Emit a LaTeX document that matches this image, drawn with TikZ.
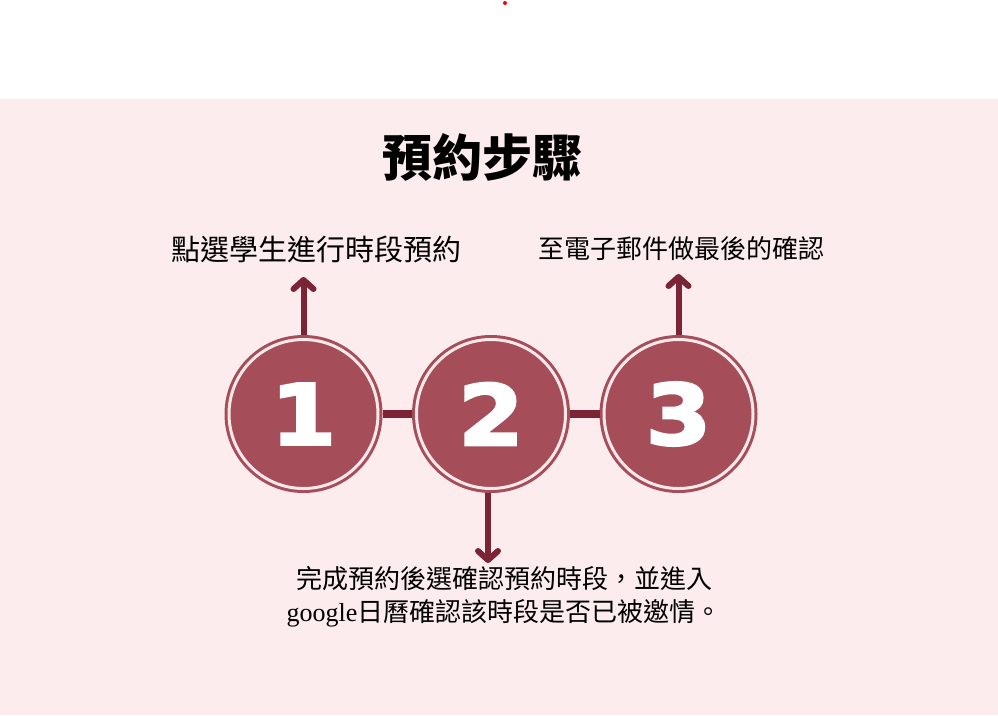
\documentclass[tikz,border=0pt]{standalone}
\usepackage{fontspec}
\setmainfont{Noto Sans CJK TC}
\newfontfamily\googlefont{Liberation Serif}
\newfontfamily\numfont{DejaVu Sans}[BoldFeatures={FakeBold=3}]
\usepackage{xcolor}
\usetikzlibrary{arrows.meta, positioning}

\definecolor{pinkbg}{HTML}{FDECED}
\definecolor{stepred}{HTML}{A64D5A}
\definecolor{stepgap}{HTML}{FBE8EA}
\definecolor{linkred}{HTML}{7B2435}

\begin{document}
\begin{tikzpicture}[
    x=1pt, y=-1pt,
    every node/.style={
        align=center,
        inner sep=0pt
    },
    stepcircle/.style={
        circle,
        fill=stepred,
        draw=stepred,
        line width=3pt,
        double=stepgap,
        double distance=3pt,
        minimum size=149pt,
        outer sep=4.5pt,
        text=white,
        font=\numfont\bfseries\fontsize{84}{84}\selectfont
    },
    title/.style={
        font=\bfseries\fontsize{50}{56}\selectfont
    },
    label/.style={
        font=\fontsize{#1}{33}\selectfont
    },
    link/.style={
        linkred,
        line width=8pt
    },
    line/.style={
        -{Straight Barb[length=9pt,width=20pt,round]},
        linkred,
        line width=6pt
    }
]

\useasboundingbox (0,0) rectangle (998,715);
\fill[pinkbg] (0,99) rectangle (998,715);
\fill[red] (505,3) circle (2);

\node[title] (titel) at (482,157) {預約步驟};

\node[stepcircle] (stepa) at (303.5,414) {\scalebox{1.12}[1]{1}};
\node[stepcircle, right=29.5pt of stepa] (stepb) {\scalebox{1.12}[1]{2}};
\node[stepcircle, right=29.5pt of stepb] (stepc) {\scalebox{1.12}[1]{3}};

\node[label=29] (texta) at (316,249) {點選學生進行時段預約};
\node[label=26] (textc) at (681.5,249) {至電子郵件做最後的確認};
\node[label=26] (textb) at (504,597)
    {完成預約後選確認預約時段，並進入\\
    {\googlefont google}日曆確認該時段是否已被邀情。};

\coordinate (tipa) at (303.5,277);
\coordinate (tipb) at (488,563);
\coordinate (tipc) at (678.5,274);

\draw[link] (stepa) -- (stepb);
\draw[link] (stepb) -- (stepc);

\draw[line] (stepa.north) -- (tipa);
\draw[line] (stepb.south -| tipb) -- (tipb);
\draw[line] (stepc.north) -- (tipc);

\end{tikzpicture}
\end{document}
